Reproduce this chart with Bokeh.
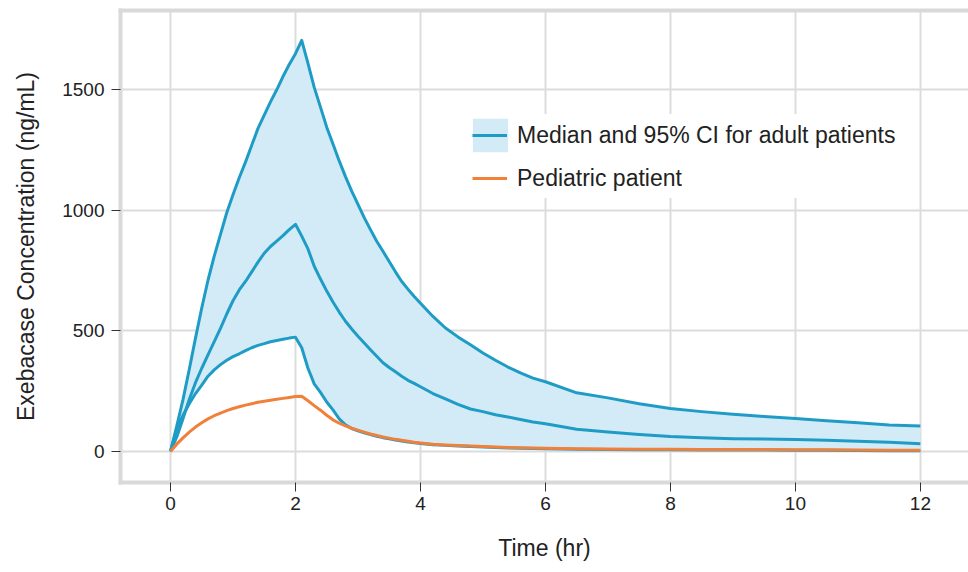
from bokeh.plotting import figure
from bokeh.models import Range1d, LinearAxis, FixedTicker, Legend, LegendItem
from bokeh.embed import file_html
from bokeh.resources import INLINE

time_hr = [0.0, 0.1, 0.2, 0.3, 0.4, 0.5, 0.6, 0.7, 0.8, 0.9, 1.0, 1.1, 1.2, 1.3, 1.4, 1.5,
           1.6, 1.7, 1.8, 1.9, 2.0, 2.1,
           2.2, 2.3, 2.4, 2.5, 2.6, 2.7, 2.8, 2.9, 3.0, 3.1, 3.2, 3.3, 3.4, 3.5, 3.6,
           3.7, 3.8, 3.9, 4.0,
           4.2, 4.4, 4.6, 4.8, 5.0, 5.2, 5.4, 5.6, 5.8, 6.0,
           6.5, 7.0, 7.5, 8.0, 8.5, 9.0, 9.5, 10.0, 10.5, 11.0, 11.5, 12.0]

adult_upper = [0, 105, 215, 340, 470, 595, 710, 810, 900, 990, 1065, 1135, 1200, 1270, 1340, 1395,
               1450, 1500, 1555, 1605, 1650, 1705,
               1610, 1510, 1428, 1345, 1275, 1205, 1140, 1080, 1025, 970, 920, 872, 830, 788, 745,
               705, 673, 643, 615,
               560, 512, 475, 442, 408, 378, 350, 326, 304, 289,
               243, 222, 198, 178, 165, 154, 145, 136, 127, 119, 110, 105]

adult_median = [0, 60, 135, 215, 285, 345, 400, 455, 510, 570, 625, 670, 705, 745, 785, 822,
                850, 872, 895, 920, 942, 893,
                840, 768, 715, 665, 620, 578, 540, 508, 478, 450, 422, 395, 368, 348, 330,
                312, 295, 282, 268,
                240, 218, 195, 176, 165, 152, 143, 132, 122, 115,
                92, 80, 70, 62, 57, 53, 51, 49, 46, 42, 38, 32]

adult_lower = [0, 92, 150, 198, 240, 275, 312, 338, 360, 378, 393, 405, 418, 430, 440, 447,
               455, 460, 465, 470, 474, 430,
               345, 280, 245, 205, 172, 135, 110, 95, 85, 77, 70, 63, 57, 52, 47,
               43, 39, 36, 33,
               28, 25, 22, 20, 18, 16, 14, 13, 12, 11,
               9, 8, 7, 7, 6, 6, 6, 5, 5, 4, 3, 3]

pediatric = [0, 30, 56, 80, 101, 119, 135, 148, 159, 169, 178, 185, 192, 198, 204, 208,
             212, 216, 220, 224, 228, 229,
             210, 190, 171, 150, 131, 117, 106, 96, 88, 80, 72, 66, 60, 55, 50,
             46, 42, 38, 35,
             30, 27, 24, 22, 20, 18, 16, 15, 14, 13,
             11, 10, 9, 9, 8, 8, 8, 7, 7, 6, 5, 5]

x_ticks = [0, 2, 4, 6, 8, 10, 12]
y_ticks = [0, 500, 1000, 1500]

legend_labels = ["Median and 95% CI for adult patients", "Pediatric patient"]

BLUE = "#1f9cc6"
FILL = "#d3ebf7"
ORANGE = "#f0803a"
BORDER = "#d9d9d9"
GRID = "#dcdcdc"
TEXT = "#222222"
FONT = "Liberation Sans"

p = figure(width=968, height=572, output_backend="svg", toolbar_location=None,
           x_range=Range1d(-0.8, 12.77), y_range=Range1d(-129, 1829),
           min_border_left=120, min_border_right=0, min_border_top=10, min_border_bottom=90,
           x_axis_label="Time (hr)", y_axis_label="Exebacase Concentration (ng/mL)")
p.outline_line_color = None
p.background_fill_color = "white"

band = p.varea(x=time_hr, y1=adult_lower, y2=adult_upper, fill_color=FILL, fill_alpha=1)
p.line(time_hr, adult_upper, line_color=BLUE, line_width=3, line_join="round")
p.line(time_hr, adult_lower, line_color=BLUE, line_width=3, line_join="round")
med = p.line(time_hr, adult_median, line_color=BLUE, line_width=3, line_join="round")
ped = p.line(time_hr, pediatric, line_color=ORANGE, line_width=3, line_join="round")
ghost = p.line(time_hr, pediatric, line_alpha=0)

for ax in (p.xaxis[0], p.yaxis[0]):
    ax.axis_line_color = BORDER
    ax.axis_line_width = 4
    ax.axis_line_cap = "square"
    ax.major_tick_line_color = "#333333"
    ax.major_tick_line_width = 1
    ax.major_tick_out = 9
    ax.major_tick_in = 0
    ax.minor_tick_line_color = None
    ax.major_label_text_font = FONT
    ax.major_label_text_font_size = "19px"
    ax.major_label_text_color = TEXT
    ax.axis_label_text_font = FONT
    ax.axis_label_text_font_size = "23px"
    ax.axis_label_text_font_style = "normal"
    ax.axis_label_text_color = TEXT

p.xaxis[0].ticker = FixedTicker(ticks=x_ticks)
p.yaxis[0].ticker = FixedTicker(ticks=y_ticks)
p.xaxis[0].major_label_standoff = 5
p.xaxis[0].axis_label_standoff = 22
p.yaxis[0].major_label_standoff = 7
p.yaxis[0].axis_label_standoff = 20

top = LinearAxis(ticker=FixedTicker(ticks=[]), major_label_text_font_size="0px",
                 major_tick_line_color=None, minor_tick_line_color=None,
                 axis_line_color=BORDER, axis_line_width=4, axis_line_cap="square")
p.add_layout(top, "above")

p.xgrid[0].ticker = FixedTicker(ticks=x_ticks)
p.ygrid[0].ticker = FixedTicker(ticks=y_ticks)
p.grid.grid_line_color = GRID
p.grid.grid_line_width = 2

# Legend 1: white box and the shaded band patch (area glyphs are drawn at 80% of the glyph box)
legend_fill = Legend(items=[LegendItem(label="", renderers=[band]),
                            LegendItem(label="", renderers=[ghost])],
                     location=(347.5, 284), glyph_width=44, glyph_height=42,
                     label_standoff=10, label_width=370, spacing=0, padding=10, margin=0,
                     border_line_color=None, background_fill_color="white",
                     background_fill_alpha=1, label_text_font=FONT,
                     label_text_font_size="23px")
p.add_layout(legend_fill, "center")

# Legend 2: the lines and the labels, drawn over legend 1
legend = Legend(items=[LegendItem(label=legend_labels[0], renderers=[med]),
                       LegendItem(label=legend_labels[1], renderers=[ped])],
                location=(352, 287), glyph_width=35, glyph_height=34,
                label_standoff=10, spacing=9, padding=10, margin=0,
                border_line_color=None, background_fill_alpha=0,
                label_text_font=FONT, label_text_font_size="23px",
                label_text_color=TEXT)
p.add_layout(legend, "center")

open("out.html", "w").write(file_html(p, INLINE))
